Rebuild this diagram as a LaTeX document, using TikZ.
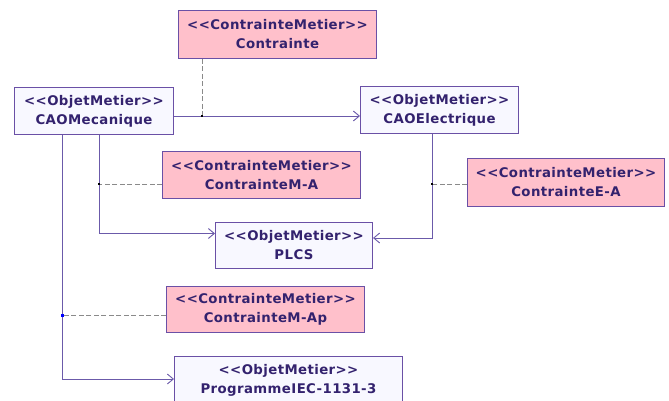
\documentclass[tikz,border=0pt]{standalone}
\usepackage{fontspec}
\setmainfont[Ligatures=NoCommon, LetterSpace=3]{DejaVu Sans}
\usetikzlibrary{arrows.meta,calc}
\definecolor{umltext}{HTML}{33226E}
\definecolor{umlborder}{HTML}{6A50A6}
\definecolor{umlline}{HTML}{6B5AAA}
\definecolor{objfill}{HTML}{F8F8FF}
\definecolor{ctrfill}{HTML}{FFC0CB}
\definecolor{dashgray}{HTML}{8A8A8A}
% stereotype in double angle brackets
\newcommand{\stereo}[1]{{<}{<}#1{>}{>}}
\tikzset{
  umlbox/.style={draw=umlborder, line width=1pt, anchor=north west, inner sep=0pt,
    align=center, text=umltext, font=\fontsize{13.3}{19}\selectfont\bfseries},
  objbox/.style={umlbox, fill=objfill},
  ctrbox/.style={umlbox, fill=ctrfill},
  link/.style={draw=umlline, line width=0.9pt},
  arr/.style={link, -{Straight Barb[length=6pt,width=10pt,line width=0.9pt]}},
  anchorline/.style={draw=dashgray, line width=0.9pt, dash pattern=on 5pt off 2.5pt},
  junction/.style={fill=black, inner sep=0pt, minimum size=2.5pt},
}
\begin{document}
\begin{tikzpicture}[x=1pt,y=-1pt]
\useasboundingbox (0,0) rectangle (669,401);
\clip (0,0) rectangle (669,401);
\fill[white] (0,0) rectangle (669,401);

% classes
\node[ctrbox, minimum width=198pt, minimum height=48pt] (ct)   at (178,10)  {\stereo{ContrainteMetier}\\Contrainte};
\node[objbox, minimum width=159pt, minimum height=47pt] (mec)  at (14,87)   {\stereo{ObjetMetier}\\CAOMecanique};
\node[objbox, minimum width=158pt, minimum height=47pt] (elec) at (360,86)  {\stereo{ObjetMetier}\\CAOElectrique};
\node[ctrbox, minimum width=198pt, minimum height=47pt] (cma)  at (162,151) {\stereo{ContrainteMetier}\\ContrainteM-A};
\node[ctrbox, minimum width=197pt, minimum height=48pt] (cea)  at (467,158) {\stereo{ContrainteMetier}\\ContrainteE-A};
\node[objbox, minimum width=157pt, minimum height=46pt] (plcs) at (215,222) {\stereo{ObjetMetier}\\PLCS};
\node[ctrbox, minimum width=198pt, minimum height=46pt] (cmap) at (166,286) {\stereo{ContrainteMetier}\\ContrainteM-Ap};
\node[objbox, minimum width=228pt, minimum height=47pt] (prog) at (174,356) {\stereo{ObjetMetier}\\ProgrammeIEC-1131-3};

% junction points on the associations
\coordinate (jct)   at (202,116);
\coordinate (jma)   at (99,184);
\coordinate (jea)   at (432,184);
\coordinate (jmap)  at (62,315);

% associations
\draw[arr] (mec.east |- jct) -- (elec.west |- jct);
\draw[arr] (mec.south -| jma) |- ([yshift=-0.5pt]plcs.north west |- 0,233);
\draw[arr] (elec.south -| jea) |- (plcs.east |- 0,238);
\draw[arr] (mec.south -| jmap) |- (prog.west |- 0,379);

% constraint anchors
\draw[anchorline] (ct.south -| jct) -- (jct);
\draw[anchorline] (cma.west |- jma) -- (jma);
\draw[anchorline] (cea.west |- jea) -- (jea);
\draw[anchorline] (cmap.west |- jmap) -- (jmap);

\node[junction] at (jct) {};
\node[junction] at (jma) {};
\node[junction] at (jea) {};
\node[junction, fill=blue, minimum size=3pt] at (jmap) {};
\end{tikzpicture}
\end{document}
